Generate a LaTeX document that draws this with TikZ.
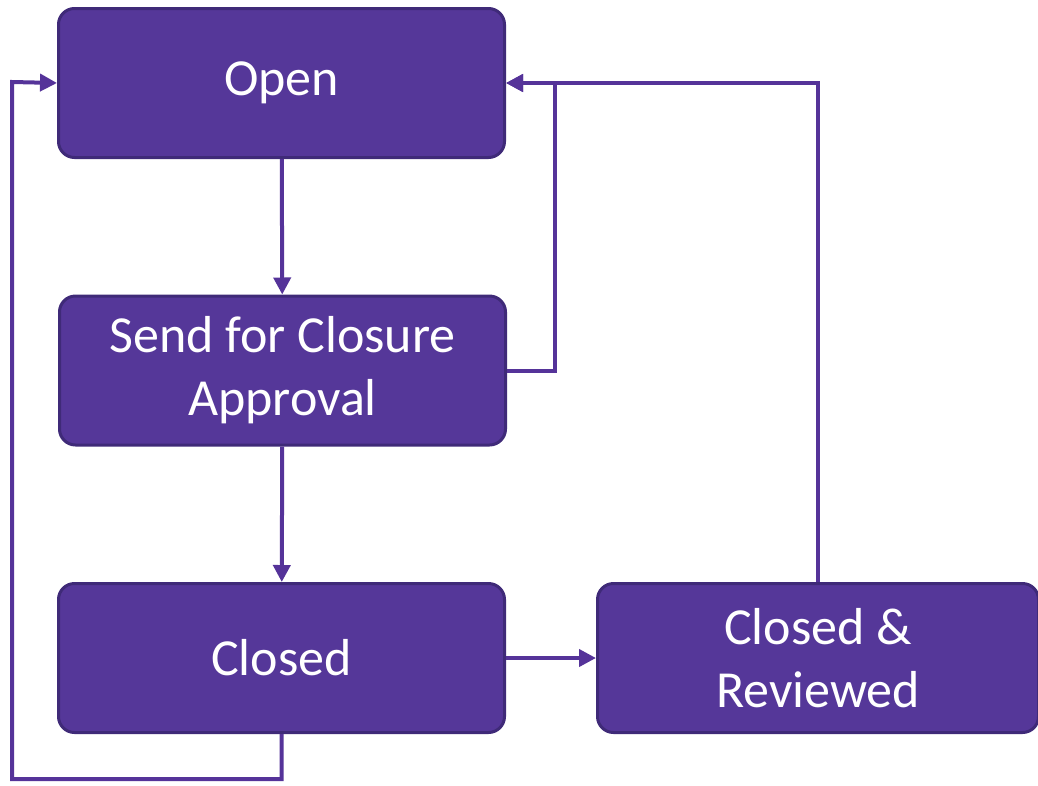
\documentclass[tikz,border=0pt]{standalone}
\usepackage{fontspec}
\setmainfont{Carlito}
\usetikzlibrary{positioning,arrows.meta}
\definecolor{statefill}{HTML}{553799}
\definecolor{stateedge}{HTML}{3F2A78}
\definecolor{flowline}{HTML}{553399}

\begin{document}
\begin{tikzpicture}[x=1pt,y=-1pt,
	state/.style={rectangle, rounded corners=16pt, draw=stateedge, line width=3pt, fill=statefill,
		minimum width=446pt, minimum height=149pt, text=white, font=\fontsize{52}{63}\selectfont, align=center},
	flow/.style={-{Triangle[length=17pt,width=17pt]}, draw=flowline, line width=4pt}]
				\useasboundingbox (0,0) rectangle (1038,785);
				\node[state] (open) at (281.5,83) {Open};
				\node[state] (send) at (282.5,370.5) {Send for Closure\\Approval};
				\node[state] (closed) at (281.5,658) {Closed};
				\node[state, minimum width=441pt] (reviewed) at (818,658) {Closed \&\\Reviewed};
				\coordinate (leftrail) at (12,82);
				\draw[flow] (open) -- (send);
				\draw[flow] (send) -- (closed);
				\draw[flow] (closed) -- (reviewed);
				\draw[flow] (reviewed.north) |- (open.east);
				\draw[flow] (send.east) -- ++(48,0) |- (open.east);
				\draw[flow] (closed.south) -- ++(0,45) -| (leftrail) -- (open.west);
			\end{tikzpicture}
\end{document}
